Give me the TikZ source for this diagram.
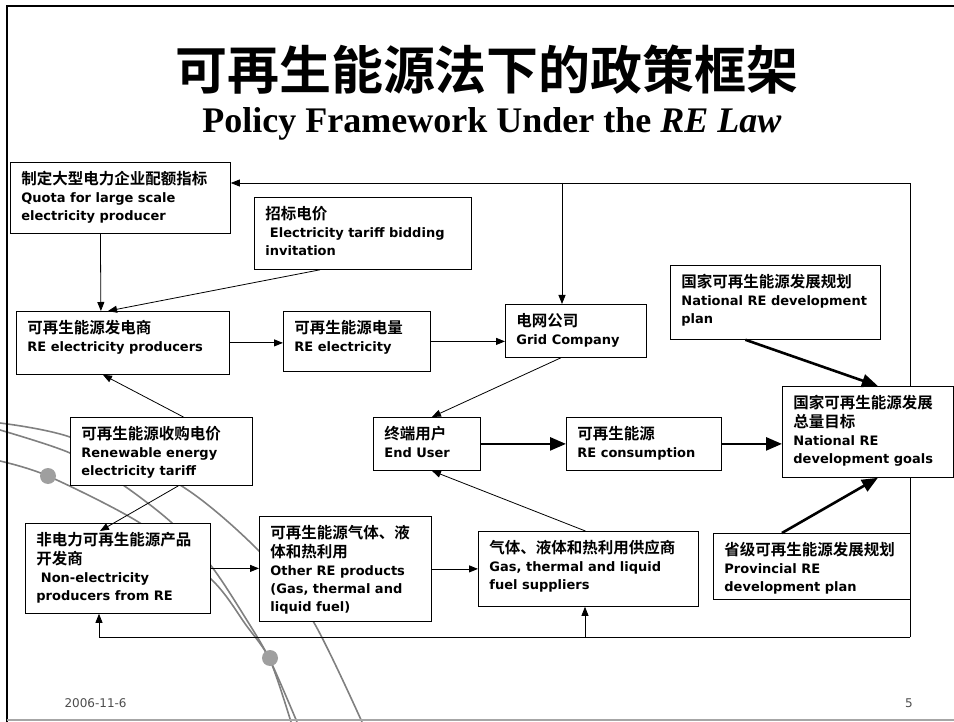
\documentclass[tikz,border=0pt]{standalone}
\usepackage{fontspec}
\setmainfont{DejaVu Sans}
\newfontfamily\cjk{Noto Sans CJK SC Bold}
\newfontfamily\subfont{Liberation Serif}
\usetikzlibrary{arrows.meta,backgrounds}

% chinese line and box text
\newcommand{\zh}[1]{{\cjk\mdseries\fontsize{15.5}{18}\selectfont #1}}
\newcommand{\boxtxt}[3]{\begin{minipage}[t][#2][t]{#1}\fontsize{13}{18}\selectfont\bfseries
  \begin{tabular}[t]{@{}l@{}}#3\end{tabular}\end{minipage}}

\tikzset{
  box/.style={draw,fill=white,line width=0.8pt,inner xsep=11pt,inner ysep=9pt,anchor=north west},
  thinarr/.style={line width=0.8pt,-{Triangle[length=9pt,width=7pt]}},
  thickarr/.style={line width=2.6pt,-{Triangle[length=16pt,width=13pt]}},
  arc/.style={gray,line width=1.6pt},
}

\begin{document}
\begin{tikzpicture}[x=1pt,y=-1pt]
	\useasboundingbox (0,0) rectangle (954,722);
	% frame
	\draw[line width=2.6pt] (954,6) -- (7,6) -- (7,722);
	\draw[gray!70,line width=1.5pt] (7,720) -- (954,720);

	% title
	\node (title) at (487,70) {\cjk\fontsize{52}{60}\selectfont 可再生能源法下的政策框架};
	\node (subtitle) at (492,124) {\subfont\bfseries\fontsize{36}{40}\selectfont Policy Framework Under the \textit{RE Law}};

	% boxes
	\node[box] (quota) at (10,162) {\boxtxt{198pt}{53pt}{\zh{制定大型电力企业配额指标}\\Quota for large scale\\electricity producer}};
	\node[box] (bid) at (254,197) {\boxtxt{195pt}{54pt}{\zh{招标电价}\\ \ Electricity tariff bidding\\invitation}};
	\node[box] (prod) at (16,311) {\boxtxt{191pt}{45pt}{\zh{可再生能源发电商}\\RE electricity producers}};
	\node[box] (reel) at (283,311) {\boxtxt{125pt}{42pt}{\zh{可再生能源电量}\\RE electricity}};
	\node[box] (grid) at (505,304) {\boxtxt{119pt}{35pt}{\zh{电网公司}\\Grid Company}};
	\node[box] (nplan) at (670,265) {\boxtxt{188pt}{56pt}{\zh{国家可再生能源发展规划}\\National RE development\\plan}};
	\node[box] (goals) at (782,386) {\boxtxt{149pt}{73pt}{\zh{国家可再生能源发展}\\\zh{总量目标}\\National RE\\development goals}};
	\node[box] (tariff) at (70,417) {\boxtxt{160pt}{50pt}{\zh{可再生能源收购电价}\\Renewable energy\\electricity tariff}};
	\node[box] (user) at (373,417) {\boxtxt{85pt}{35pt}{\zh{终端用户}\\End User}};
	\node[box] (cons) at (566,417) {\boxtxt{133pt}{35pt}{\zh{可再生能源}\\RE consumption}};
	\node[box] (nonel) at (25,523) {\boxtxt{163pt}{72pt}{\zh{非电力可再生能源产品}\\\zh{开发商}\\ \ Non-electricity\\producers from RE}};
	\node[box] (other) at (259,516) {\boxtxt{150pt}{87pt}{\zh{可再生能源气体、液}\\\zh{体和热利用}\\Other RE products\\(Gas, thermal and\\liquid fuel)}};
	\node[box] (gas) at (478,531) {\boxtxt{198pt}{57pt}{\zh{气体、液体和热利用供应商}\\Gas, thermal and liquid\\fuel suppliers}};
	\node[box] (prov) at (713,533) {\boxtxt{175pt}{48pt}{\zh{省级可再生能源发展规划}\\Provincial RE\\development plan}};

	% footer
	\node[anchor=west,text=gray!60!black] (date) at (61,703) {\fontsize{12}{14}\selectfont 2006-11-6};
	\node[text=gray!60!black] (page) at (909,703) {\fontsize{12}{14}\selectfont 5};

	% corner points of the loop
	\coordinate (topR) at (910,183);
	\coordinate (botR) at (910,637);
	\coordinate (gT) at (562,183);
	\coordinate (nB) at (99,637);
	\coordinate (gB) at (585,637);

	\begin{scope}[on background layer]
		% decoration arcs
		\draw[arc] plot[smooth] coordinates {(0,423) (70,437) (180,485) (260,552) (313,621) (362,722)};
		\draw[arc] plot[smooth] coordinates {(0,430) (70,453) (123,485) (172,523) (212,567) (248,622) (270,660) (297,722)};
		\draw[arc] plot[smooth] coordinates {(0,461) (48,476) (140,523) (212,580) (246,625) (270,660) (291,722)};
		\fill[gray!75] (48,476) circle (8pt);
		\fill[gray!75] (270,658) circle (8pt);
		% feedback loop
		\draw[thinarr] (botR) -- (topR) -- (topR -| quota.east);
		\draw[thinarr] (gT) -- (gT |- grid.north);
		\draw[thinarr] (botR) -- (nB) -- (nB |- nonel.south);
		\draw[thinarr] (gB) -- (gB |- gas.south);
	\end{scope}

	% links
	\draw[thinarr] ([xshift=-20pt]quota.south) -- ([xshift=-22pt]prod.north);
	\draw[thinarr] ([xshift=66pt]bid.south west) -- ([xshift=92pt]prod.north west);
	\draw[thinarr] (prod.east) -- (prod.east -| reel.west);
	\draw[thinarr] (reel.east) -- (reel.east -| grid.west);
	\draw[thinarr] ([xshift=-15pt]grid.south) -- ([xshift=5pt]user.north);
	\draw[thinarr] ([xshift=22pt]tariff.north) -- ([xshift=-20pt]prod.south);
	\draw[thinarr] ([xshift=17pt]tariff.south) -- ([xshift=75pt,yshift=-8pt]nonel.north west);
	\draw[thinarr] ([xshift=-3pt]gas.north) -- ([xshift=5pt]user.south);
	\draw[thinarr] (nonel.east) -- (nonel.east -| other.west);
	\draw[thinarr] (other.east) -- (other.east -| gas.west);
	\draw[thickarr] (user.east) -- (user.east -| cons.west);
	\draw[thickarr] (cons.east) -- (cons.east -| goals.west);
	\draw[thickarr] ([xshift=-30pt]nplan.south) -- ([xshift=10pt]goals.north);
	\draw[thickarr] ([xshift=-30pt]prov.north) -- ([xshift=10pt]goals.south);
\end{tikzpicture}
\end{document}
